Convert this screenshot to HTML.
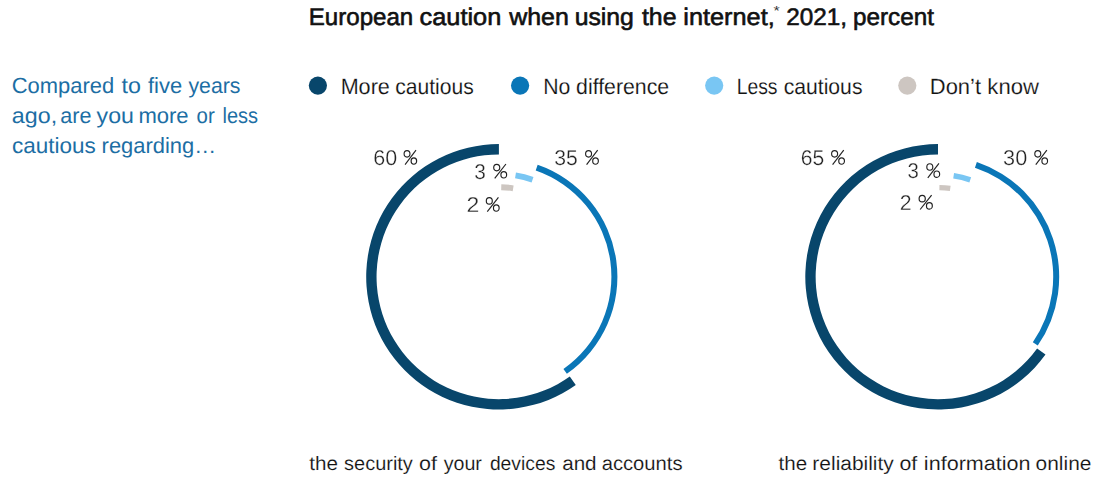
<!DOCTYPE html>
<html><head><meta charset="utf-8"><title>European caution when using the internet</title><style>html,body{margin:0;padding:0;background:#fff}svg{display:block}text{font-family:"Liberation Sans",sans-serif;text-rendering:geometricPrecision}</style></head><body>
<svg width="1102" height="490" viewBox="0 0 1102 490">
<rect width="1102" height="490" fill="#fff"/>
<circle cx="317.9" cy="85.6" r="9.1" fill="#08466b"/>
<circle cx="520.1" cy="85.6" r="9.1" fill="#0a76b7"/>
<circle cx="714.2" cy="85.6" r="9.1" fill="#79c6f3"/>
<circle cx="907.3" cy="85.6" r="9.1" fill="#cdc6c1"/>
<path d="M575.77 384.97A132.70 132.70 0 1 1 498.90 144.10L498.90 154.45A122.35 122.35 0 1 0 569.78 376.53Z" fill="#08466b"/>
<path d="M537.68 164.82A118.50 118.50 0 0 1 566.87 373.87L563.43 368.95A112.50 112.50 0 0 0 535.71 170.49Z" fill="#0a76b7"/>
<path d="M515.97 172.54A105.65 105.65 0 0 1 533.47 176.97L531.59 182.40A99.90 99.90 0 0 0 515.04 178.21Z" fill="#79c6f3"/>
<path d="M501.32 184.23A92.60 92.60 0 0 1 513.63 185.38L512.69 191.20A86.70 86.70 0 0 0 501.17 190.13Z" fill="#cdc6c1"/>
<path d="M1045.49 354.61A132.70 132.70 0 1 1 938.00 144.10L938.00 154.45A122.35 122.35 0 1 0 1037.11 348.54Z" fill="#08466b"/>
<path d="M976.86 162.00A121.20 121.20 0 0 1 1037.76 345.62L1032.83 342.22A115.20 115.20 0 0 0 974.93 167.68Z" fill="#0a76b7"/>
<path d="M954.06 173.04A105.00 105.00 0 0 1 971.14 177.17L969.38 182.48A99.40 99.40 0 0 0 953.21 178.57Z" fill="#79c6f3"/>
<path d="M939.44 184.91A91.90 91.90 0 0 1 950.63 185.77L949.89 191.12A86.50 86.50 0 0 0 939.36 190.31Z" fill="#cdc6c1"/>
<text x="308.74" y="25.00" font-size="24" fill="#111" textLength="104.50" lengthAdjust="spacingAndGlyphs" stroke="#111" stroke-width="0.6" stroke-linejoin="round">European</text>
<text x="419.59" y="25.00" font-size="24" fill="#111" textLength="81.67" lengthAdjust="spacingAndGlyphs" stroke="#111" stroke-width="0.6" stroke-linejoin="round">caution</text>
<text x="509.17" y="25.00" font-size="24" fill="#111" textLength="59.59" lengthAdjust="spacingAndGlyphs" stroke="#111" stroke-width="0.6" stroke-linejoin="round">when</text>
<text x="574.71" y="25.00" font-size="24" fill="#111" textLength="59.18" lengthAdjust="spacingAndGlyphs" stroke="#111" stroke-width="0.6" stroke-linejoin="round">using</text>
<text x="641.91" y="25.00" font-size="24" fill="#111" textLength="34.62" lengthAdjust="spacingAndGlyphs" stroke="#111" stroke-width="0.6" stroke-linejoin="round">the</text>
<text x="683.35" y="25.00" font-size="24" fill="#111" textLength="91.33" lengthAdjust="spacingAndGlyphs" stroke="#111" stroke-width="0.6" stroke-linejoin="round">internet,</text>
<text x="786.19" y="25.00" font-size="24" fill="#111" textLength="60.81" lengthAdjust="spacingAndGlyphs" stroke="#111" stroke-width="0.6" stroke-linejoin="round">2021,</text>
<text x="853.04" y="25.00" font-size="24" fill="#111" textLength="80.89" lengthAdjust="spacingAndGlyphs" stroke="#111" stroke-width="0.6" stroke-linejoin="round">percent</text>
<text x="773.48" y="15.00" font-size="13" fill="#333" textLength="6.17" lengthAdjust="spacingAndGlyphs">*</text>
<text x="11.70" y="93.00" font-size="22" fill="#1c6ea4" textLength="102.43" lengthAdjust="spacingAndGlyphs">Compared</text>
<text x="121.48" y="93.00" font-size="22" fill="#1c6ea4" textLength="19.41" lengthAdjust="spacingAndGlyphs">to</text>
<text x="148.03" y="93.00" font-size="22" fill="#1c6ea4" textLength="34.23" lengthAdjust="spacingAndGlyphs">five</text>
<text x="188.40" y="93.00" font-size="22" fill="#1c6ea4" textLength="52.06" lengthAdjust="spacingAndGlyphs">years</text>
<text x="11.85" y="123.00" font-size="22" fill="#1c6ea4" textLength="45.27" lengthAdjust="spacingAndGlyphs">ago,</text>
<text x="60.28" y="123.00" font-size="22" fill="#1c6ea4" textLength="31.19" lengthAdjust="spacingAndGlyphs">are</text>
<text x="96.59" y="123.00" font-size="22" fill="#1c6ea4" textLength="37.31" lengthAdjust="spacingAndGlyphs">you</text>
<text x="138.42" y="123.00" font-size="22" fill="#1c6ea4" textLength="50.22" lengthAdjust="spacingAndGlyphs">more</text>
<text x="196.55" y="123.00" font-size="22" fill="#1c6ea4" textLength="18.13" lengthAdjust="spacingAndGlyphs">or</text>
<text x="222.47" y="123.00" font-size="22" fill="#1c6ea4" textLength="35.58" lengthAdjust="spacingAndGlyphs">less</text>
<text x="11.94" y="153.00" font-size="22" fill="#1c6ea4" textLength="83.91" lengthAdjust="spacingAndGlyphs">cautious</text>
<text x="101.58" y="153.00" font-size="22" fill="#1c6ea4" textLength="114.51" lengthAdjust="spacingAndGlyphs">regarding…</text>
<text x="340.64" y="94.00" font-size="22" fill="#121212" textLength="49.22" lengthAdjust="spacingAndGlyphs" stroke="#fff" stroke-width="0.15">More</text>
<text x="395.28" y="94.00" font-size="22" fill="#121212" textLength="78.53" lengthAdjust="spacingAndGlyphs" stroke="#fff" stroke-width="0.15">cautious</text>
<text x="543.23" y="94.00" font-size="22" fill="#121212" textLength="27.11" lengthAdjust="spacingAndGlyphs" stroke="#fff" stroke-width="0.15">No</text>
<text x="576.12" y="94.00" font-size="22" fill="#121212" textLength="92.98" lengthAdjust="spacingAndGlyphs" stroke="#fff" stroke-width="0.15">difference</text>
<text x="736.66" y="94.00" font-size="22" fill="#121212" textLength="40.85" lengthAdjust="spacingAndGlyphs" stroke="#fff" stroke-width="0.15">Less</text>
<text x="783.65" y="94.00" font-size="22" fill="#121212" textLength="78.84" lengthAdjust="spacingAndGlyphs" stroke="#fff" stroke-width="0.15">cautious</text>
<text x="929.81" y="94.00" font-size="22" fill="#121212" textLength="51.23" lengthAdjust="spacingAndGlyphs" stroke="#fff" stroke-width="0.15">Don’t</text>
<text x="987.37" y="94.00" font-size="22" fill="#121212" textLength="51.58" lengthAdjust="spacingAndGlyphs" stroke="#fff" stroke-width="0.15">know</text>
<text x="309.33" y="470.00" font-size="19.5" fill="#121212" textLength="28.68" lengthAdjust="spacingAndGlyphs" stroke="#fff" stroke-width="0.15">the</text>
<text x="344.13" y="470.00" font-size="19.5" fill="#121212" textLength="68.70" lengthAdjust="spacingAndGlyphs" stroke="#fff" stroke-width="0.15">security</text>
<text x="418.93" y="470.00" font-size="19.5" fill="#121212" textLength="17.96" lengthAdjust="spacingAndGlyphs" stroke="#fff" stroke-width="0.15">of</text>
<text x="443.66" y="470.00" font-size="19.5" fill="#121212" textLength="38.24" lengthAdjust="spacingAndGlyphs" stroke="#fff" stroke-width="0.15">your</text>
<text x="489.89" y="470.00" font-size="19.5" fill="#121212" textLength="65.44" lengthAdjust="spacingAndGlyphs" stroke="#fff" stroke-width="0.15">devices</text>
<text x="562.18" y="470.00" font-size="19.5" fill="#121212" textLength="34.39" lengthAdjust="spacingAndGlyphs" stroke="#fff" stroke-width="0.15">and</text>
<text x="601.67" y="470.00" font-size="19.5" fill="#121212" textLength="80.87" lengthAdjust="spacingAndGlyphs" stroke="#fff" stroke-width="0.15">accounts</text>
<text x="778.55" y="470.00" font-size="19.5" fill="#121212" textLength="28.59" lengthAdjust="spacingAndGlyphs" stroke="#fff" stroke-width="0.15">the</text>
<text x="812.38" y="470.00" font-size="19.5" fill="#121212" textLength="81.43" lengthAdjust="spacingAndGlyphs" stroke="#fff" stroke-width="0.15">reliability</text>
<text x="899.41" y="470.00" font-size="19.5" fill="#121212" textLength="17.84" lengthAdjust="spacingAndGlyphs" stroke="#fff" stroke-width="0.15">of</text>
<text x="923.86" y="470.00" font-size="19.5" fill="#121212" textLength="106.73" lengthAdjust="spacingAndGlyphs" stroke="#fff" stroke-width="0.15">information</text>
<text x="1035.64" y="470.00" font-size="19.5" fill="#121212" textLength="55.74" lengthAdjust="spacingAndGlyphs" stroke="#fff" stroke-width="0.15">online</text>
<g style="will-change:transform">
<text x="373.38" y="165.00" font-size="21.4" fill="#222" textLength="23.92" lengthAdjust="spacingAndGlyphs" stroke="#fff" stroke-width="0.3">60</text>
<text x="554.29" y="165.00" font-size="21.4" fill="#222" textLength="23.59" lengthAdjust="spacingAndGlyphs" stroke="#fff" stroke-width="0.3">35</text>
<text x="474.30" y="179.00" font-size="21.4" fill="#222" textLength="11.60" lengthAdjust="spacingAndGlyphs" stroke="#fff" stroke-width="0.3">3</text>
<text x="466.64" y="212.00" font-size="21.4" fill="#222" textLength="12.81" lengthAdjust="spacingAndGlyphs" stroke="#fff" stroke-width="0.3">2</text>
<text x="800.87" y="165.00" font-size="21.4" fill="#222" textLength="23.47" lengthAdjust="spacingAndGlyphs" stroke="#fff" stroke-width="0.3">65</text>
<text x="1003.12" y="165.00" font-size="21.4" fill="#222" textLength="24.09" lengthAdjust="spacingAndGlyphs" stroke="#fff" stroke-width="0.3">30</text>
<text x="907.38" y="178.00" font-size="21.4" fill="#222" textLength="11.35" lengthAdjust="spacingAndGlyphs" stroke="#fff" stroke-width="0.3">3</text>
<text x="899.87" y="210.00" font-size="21.4" fill="#222" textLength="11.83" lengthAdjust="spacingAndGlyphs" stroke="#fff" stroke-width="0.3">2</text>
</g>
<g transform="translate(403.50 164.8) scale(0.979 1)" fill="none" stroke="#222" stroke-width="1.15"><ellipse cx="3.6" cy="-11.0" rx="3.0" ry="3.25"/><ellipse cx="10.6" cy="-3.8" rx="2.85" ry="3.2"/><path d="M12.75 -14.6L1.6 -0.2"/></g>
<g transform="translate(585.00 164.8) scale(0.993 1)" fill="none" stroke="#222" stroke-width="1.15"><ellipse cx="3.6" cy="-11.0" rx="3.0" ry="3.25"/><ellipse cx="10.6" cy="-3.8" rx="2.85" ry="3.2"/><path d="M12.75 -14.6L1.6 -0.2"/></g>
<g transform="translate(493.10 178.6) scale(1.007 1)" fill="none" stroke="#222" stroke-width="1.15"><ellipse cx="3.6" cy="-11.0" rx="3.0" ry="3.25"/><ellipse cx="10.6" cy="-3.8" rx="2.85" ry="3.2"/><path d="M12.75 -14.6L1.6 -0.2"/></g>
<g transform="translate(485.70 211.9) scale(1.000 1)" fill="none" stroke="#222" stroke-width="1.15"><ellipse cx="3.6" cy="-11.0" rx="3.0" ry="3.25"/><ellipse cx="10.6" cy="-3.8" rx="2.85" ry="3.2"/><path d="M12.75 -14.6L1.6 -0.2"/></g>
<g transform="translate(831.00 164.8) scale(1.000 1)" fill="none" stroke="#222" stroke-width="1.15"><ellipse cx="3.6" cy="-11.0" rx="3.0" ry="3.25"/><ellipse cx="10.6" cy="-3.8" rx="2.85" ry="3.2"/><path d="M12.75 -14.6L1.6 -0.2"/></g>
<g transform="translate(1034.20 164.8) scale(0.993 1)" fill="none" stroke="#222" stroke-width="1.15"><ellipse cx="3.6" cy="-11.0" rx="3.0" ry="3.25"/><ellipse cx="10.6" cy="-3.8" rx="2.85" ry="3.2"/><path d="M12.75 -14.6L1.6 -0.2"/></g>
<g transform="translate(926.20 178.0) scale(1.000 1)" fill="none" stroke="#222" stroke-width="1.15"><ellipse cx="3.6" cy="-11.0" rx="3.0" ry="3.25"/><ellipse cx="10.6" cy="-3.8" rx="2.85" ry="3.2"/><path d="M12.75 -14.6L1.6 -0.2"/></g>
<g transform="translate(918.50 209.7) scale(1.028 1)" fill="none" stroke="#222" stroke-width="1.15"><ellipse cx="3.6" cy="-11.0" rx="3.0" ry="3.25"/><ellipse cx="10.6" cy="-3.8" rx="2.85" ry="3.2"/><path d="M12.75 -14.6L1.6 -0.2"/></g>
</svg></body></html>
